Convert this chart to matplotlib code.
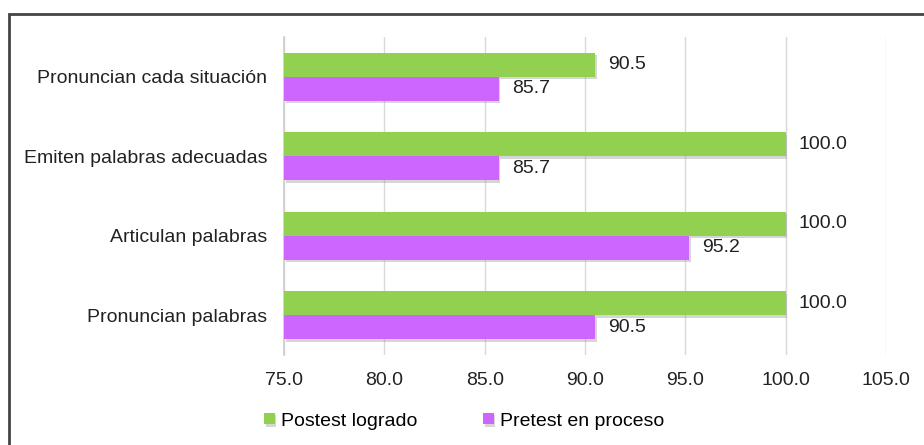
import matplotlib
matplotlib.use("Agg")
import matplotlib.pyplot as plt
import matplotlib.patheffects as pe
from matplotlib.patches import Rectangle
import numpy as np

plt.rcParams['font.family'] = ['Liberation Sans', 'DejaVu Sans']

# data (bottom to top)
categories = ["Pronuncian palabras", "Articulan palabras",
              "Emiten palabras adecuadas", "Pronuncian cada situación"]
postest = [100.0, 100.0, 100.0, 90.5]
pretest = [90.5, 95.2, 85.7, 85.7]
series_names = ["Postest logrado", "Pretest en proceso"]
xticks = [75, 80, 85, 90, 95, 100, 105]

green = "#92D050"
purple = "#CC66FF"
fs = 14

fig = plt.figure(figsize=(9.24, 4.45), dpi=100)
ax = fig.add_axes([284 / 924, 1 - 355 / 445, (886 - 284) / 924, (355 - 37) / 445])

y = np.arange(len(categories))
h = 0.3
shadow = [pe.SimplePatchShadow(offset=(1.2, -1.8), shadow_rgbFace="0.55", alpha=0.35), pe.Normal()]
b1 = ax.barh(y + h / 2, [v - 75 for v in postest], left=75, height=h, color=green,
             label=series_names[0], zorder=3, path_effects=shadow)
b2 = ax.barh(y - h / 2, [v - 75 for v in pretest], left=75, height=h, color=purple,
             label=series_names[1], zorder=3, path_effects=shadow)

for yy, v in zip(y + h / 2, postest):
    ax.text(v + 0.65, yy, f"{v:.1f}", va="center", ha="left", fontsize=fs, color="#222222")
for yy, v in zip(y - h / 2, pretest):
    ax.text(v + 0.65, yy, f"{v:.1f}", va="center", ha="left", fontsize=fs, color="#222222")

ax.set_xlim(75, 105)
ax.set_ylim(-0.5, 3.5)
ax.set_xticks(xticks)
ax.set_xticklabels([f"{t:.1f}" for t in xticks], fontsize=fs, color="#222222")
ax.set_yticks(y)
ax.set_yticklabels(categories, fontsize=fs, color="#222222")
ax.tick_params(axis="both", length=0)
ax.tick_params(axis="y", pad=12)
ax.tick_params(axis="x", pad=12)
ax.grid(axis="x", color="#D9D9D9", linewidth=1, zorder=0)
for s in ["top", "right", "bottom"]:
    ax.spines[s].set_visible(False)
ax.spines["left"].set_color("#CCCCCC")
ax.spines["left"].set_linewidth(1.2)

fig.legend(handles=[b1, b2], labels=series_names, loc="center left",
           bbox_to_anchor=(264 / 924, 1 - 421 / 445), ncol=2, frameon=False,
           fontsize=fs, handlelength=0.55, handleheight=0.55, handletextpad=0.3,
           columnspacing=3.4, borderpad=0, borderaxespad=0)

fig.patches.append(Rectangle((9 / 924, -0.1), 1.2, 1.1 - 14 / 445, transform=fig.transFigure,
                             fill=False, edgecolor="#444444", linewidth=2))

fig.savefig("out.png", dpi=100)
